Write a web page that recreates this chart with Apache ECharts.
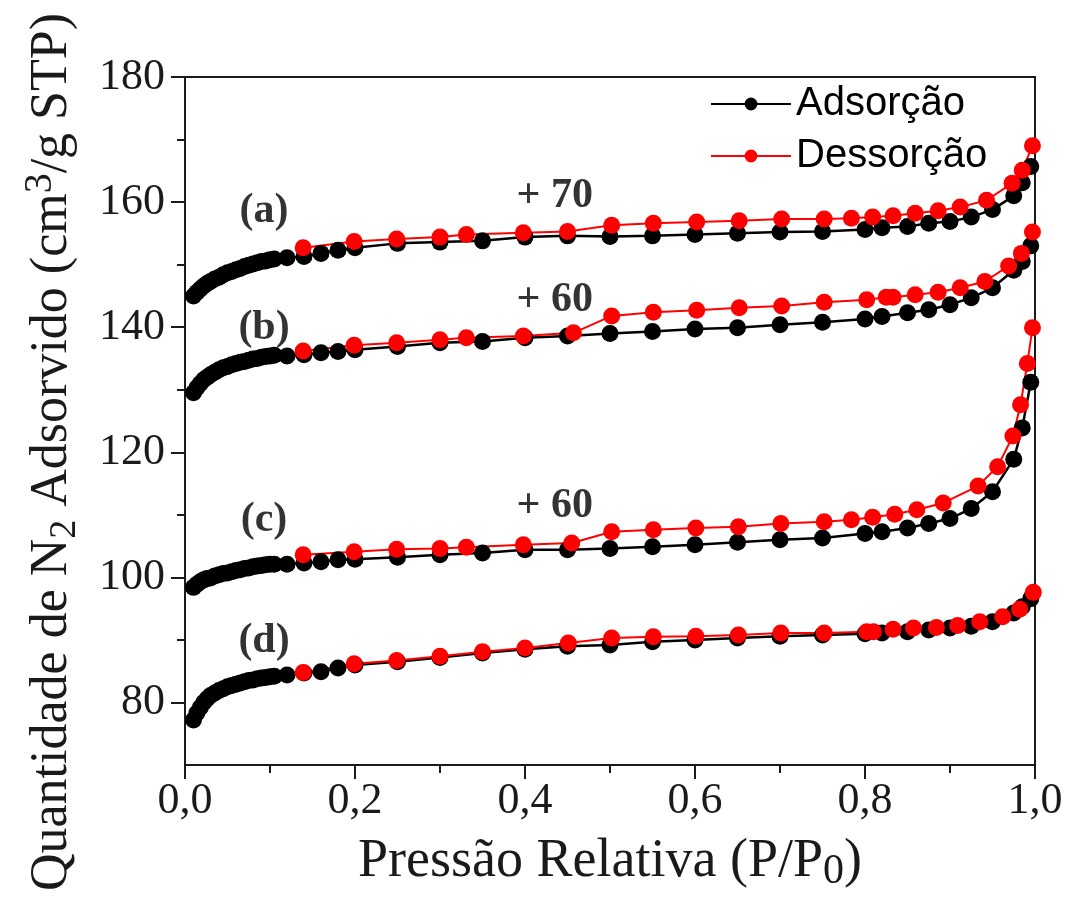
<!DOCTYPE html>
<html>
<head>
<meta charset="utf-8">
<title>Isotermas de N2</title>
<script src="https://cdn.jsdelivr.net/npm/echarts@6/dist/echarts.min.js"></script>
<style>
  html, body { margin: 0; padding: 0; background: #fff; }
  #chart { width: 1070px; height: 914px; }
</style>
</head>
<body>
<div id="chart"></div>
<script>
// pressão relativa da adsorção (comum às 4 amostras)
const adsP = [0.010, 0.014, 0.018, 0.022, 0.026, 0.030, 0.035, 0.040, 0.045, 0.050, 0.055,
  0.060, 0.065, 0.070, 0.075, 0.080, 0.085, 0.090, 0.095, 0.100, 0.105,
  0.12, 0.14, 0.16, 0.18, 0.20, 0.25, 0.30, 0.35, 0.40, 0.45, 0.50, 0.55, 0.60, 0.65,
  0.70, 0.75, 0.80, 0.82, 0.85, 0.875, 0.90, 0.925, 0.95, 0.975, 0.985, 0.995]

// adsorção (já com os deslocamentos +70 / +60 / +60)
const adsA = [145.0, 145.6, 146.1, 146.6, 147.0, 147.3, 147.7, 148.0, 148.4, 148.7, 148.9,
  149.2, 149.4, 149.7, 149.9, 150.1, 150.3, 150.5, 150.6, 150.8, 150.9,
  151.1, 151.3, 151.8, 152.3, 152.7, 153.4, 153.6, 153.8, 154.4, 154.6, 154.5, 154.6, 154.8, 155.0,
  155.2, 155.3, 155.6, 155.9, 156.1, 156.6, 156.9, 157.6, 158.8, 161.0, 163.1, 165.7]
const adsB = [129.5, 130.3, 131.0, 131.6, 132.0, 132.4, 132.8, 133.2, 133.5, 133.7, 134.0,
  134.2, 134.4, 134.5, 134.7, 134.9, 135.0, 135.2, 135.3, 135.4, 135.5,
  135.4, 135.6, 135.9, 136.1, 136.4, 136.9, 137.5, 137.7, 138.3, 138.6, 139.0, 139.3, 139.7, 139.9,
  140.4, 140.8, 141.3, 141.7, 142.3, 142.8, 143.6, 144.7, 146.3, 149.1, 150.5, 153.0]
const adsC = [98.4, 98.9, 99.3, 99.6, 99.8, 99.9, 100.2, 100.4, 100.6, 100.7, 100.9,
  101.1, 101.2, 101.4, 101.5, 101.7, 101.8, 101.9, 102.0, 102.1, 102.1,
  102.1, 102.3, 102.5, 102.8, 102.9, 103.2, 103.6, 103.9, 104.4, 104.4, 104.6, 104.9, 105.2, 105.6,
  106.0, 106.3, 107.0, 107.3, 107.9, 108.6, 109.4, 111.0, 113.7, 118.9, 123.9, 131.2]
const adsD = [77.2, 78.3, 79.2, 80.0, 80.6, 81.1, 81.5, 81.9, 82.2, 82.5, 82.7,
  82.9, 83.1, 83.3, 83.5, 83.6, 83.8, 83.9, 84.0, 84.1, 84.2,
  84.4, 84.7, 84.9, 85.5, 86.0, 86.5, 87.2, 87.9, 88.5, 89.0, 89.2, 89.7, 90.0, 90.3,
  90.6, 90.8, 91.0, 91.1, 91.3, 91.6, 91.9, 92.2, 92.9, 94.3, 95.3, 96.6]

// dessorção: cada amostra tem seus próprios pontos de pressão
const desPA = [0.997, 0.985, 0.973, 0.943, 0.912, 0.886, 0.859, 0.833, 0.809, 0.784, 0.752, 0.702,
  0.652, 0.602, 0.551, 0.502, 0.45, 0.398, 0.331, 0.30, 0.249, 0.199, 0.139]
const desA = [169.0, 165.1, 163.0, 160.3, 159.2, 158.6, 158.2, 157.8, 157.6, 157.4, 157.3, 157.3,
  157.0, 156.8, 156.6, 156.3, 155.3, 155.1, 154.8, 154.4, 154.1, 153.7, 152.7]
const desPB = [0.997, 0.984, 0.969, 0.941, 0.912, 0.886, 0.859, 0.833, 0.825, 0.802, 0.752, 0.702,
  0.652, 0.602, 0.551, 0.502, 0.457, 0.398, 0.331, 0.30, 0.249, 0.199, 0.139]
const desB = [155.2, 151.8, 149.8, 147.3, 146.3, 145.6, 145.2, 144.8, 144.8, 144.4, 144.0, 143.4,
  143.1, 142.7, 142.4, 141.8, 139.1, 138.6, 138.3, 138.0, 137.5, 137.1, 136.2]
const desPC = [0.997, 0.991, 0.983, 0.974, 0.956, 0.933, 0.892, 0.861, 0.835, 0.809, 0.784, 0.752,
  0.701, 0.651, 0.601, 0.551, 0.502, 0.455, 0.398, 0.331, 0.30, 0.249, 0.199, 0.139]
const desC = [139.9, 134.2, 127.6, 122.6, 117.7, 114.6, 111.9, 110.8, 110.1, 109.6, 109.2, 108.9,
  108.6, 108.1, 107.9, 107.6, 107.3, 105.5, 105.2, 104.8, 104.6, 104.5, 104.1, 103.6]
const desPD = [0.998, 0.982, 0.962, 0.935, 0.909, 0.884, 0.857, 0.833, 0.81, 0.802, 0.752, 0.701,
  0.651, 0.601, 0.551, 0.502, 0.451, 0.40, 0.35, 0.30, 0.249, 0.199, 0.139]
const desD = [97.6, 94.9, 93.7, 92.9, 92.3, 92.0, 91.9, 91.7, 91.3, 91.3, 91.1, 91.1,
  90.8, 90.6, 90.5, 90.3, 89.5, 88.7, 88.1, 87.4, 86.7, 86.2, 84.8]

// rótulos das amostras e deslocamentos
const noteText = ['(a)', '+ 70', '(b)', '+ 60', '(c)', '+ 60', '(d)']
const noteP = [0.093, 0.435, 0.093, 0.435, 0.093, 0.435, 0.093]
const noteQ = [158.6, 160.9, 139.9, 144.4, 109.2, 111.4, 89.8]

const yMajor = [80, 100, 120, 140, 160, 180]
const yMinor = [90, 110, 130, 150, 170]

const SERIF = 'Liberation Serif'
const INK = '#1a1a1a'

function pairs(xs, ys) {
  return xs.map((x, i) => [x, ys[i]])
}

function adsSeries(ys) {
  return {
    name: 'Adsorção',
    type: 'line',
    data: pairs(adsP, ys),
    symbol: 'circle',
    symbolSize: 17,
    itemStyle: { color: '#000' },
    lineStyle: { color: '#000', width: 2.5 },
    emphasis: { disabled: true }
  }
}

function desSeries(xs, ys) {
  return {
    name: 'Dessorção',
    type: 'line',
    data: pairs(xs, ys),
    symbol: 'circle',
    symbolSize: 17,
    itemStyle: { color: '#ff0000' },
    lineStyle: { color: '#ff0000', width: 2 },
    emphasis: { disabled: true }
  }
}

const chart = echarts.init(document.getElementById('chart'))
chart.setOption({
  animation: false,
  backgroundColor: '#fff',
  grid: {
    left: 185, right: 35, top: 77, bottom: 149,
    show: true, borderColor: INK, borderWidth: 2,
    outerBoundsMode: 'none'
  },
  legend: {
    data: ['Adsorção', 'Dessorção'],
    orient: 'vertical',
    left: 710, top: 84,
    padding: 0,
    itemGap: 12,
    itemWidth: 80, itemHeight: 16,
    textStyle: { fontFamily: 'Liberation Sans', fontSize: 40, color: '#000' }
  },
  xAxis: {
    type: 'value',
    min: 0, max: 1, interval: 0.2,
    name: '{m|Pressão Relativa (P/P}{sub|0}{m|)}',
    nameLocation: 'middle',
    nameGap: 66,
    nameTextStyle: {
      rich: {
        m: { fontFamily: SERIF, fontSize: 54, lineHeight: 62, color: INK, verticalAlign: 'middle' },
        sub: { fontFamily: SERIF, fontSize: 42, lineHeight: 42, color: INK, verticalAlign: 'bottom' }
      }
    },
    axisLine: { lineStyle: { color: INK, width: 2 } },
    axisTick: { length: 14, lineStyle: { color: INK, width: 2 } },
    minorTick: { show: true, splitNumber: 2, length: 8, lineStyle: { color: INK, width: 2 } },
    axisLabel: {
      fontFamily: SERIF, fontSize: 44, color: INK, margin: 14,
      formatter: v => v.toFixed(1).replace('.', ',')
    },
    splitLine: { show: false }
  },
  yAxis: [{
    type: 'value',
    min: 70, max: 180,
    axisLine: { show: true, lineStyle: { color: INK, width: 2 } },
    axisTick: { show: true, length: 14, customValues: yMajor, lineStyle: { color: INK, width: 2 } },
    axisLabel: { fontFamily: SERIF, fontSize: 44, color: INK, margin: 20, customValues: yMajor },
    splitLine: { show: false }
  }, {
    // eixo auxiliar só para os ticks menores
    type: 'value',
    min: 70, max: 180,
    position: 'left',
    axisLine: { show: false },
    axisTick: { show: true, length: 8, customValues: yMinor, lineStyle: { color: INK, width: 2 } },
    axisLabel: { show: false },
    splitLine: { show: false }
  }],
  graphic: [{
    type: 'text',
    x: 52, y: 452,
    rotation: Math.PI / 2,
    style: {
      text: '{m|Quantidade de N}{sub|2}{m| Adsorvido (cm}{sup|3}{m|/g STP)}',
      align: 'center',
      verticalAlign: 'middle',
      rich: {
        m: { fontFamily: SERIF, fontSize: 52, lineHeight: 64, fill: INK, verticalAlign: 'middle' },
        sub: { fontFamily: SERIF, fontSize: 38, lineHeight: 38, fill: INK, verticalAlign: 'bottom' },
        sup: { fontFamily: SERIF, fontSize: 40, lineHeight: 40, fill: INK, verticalAlign: 'top' }
      }
    }
  }],
  series: [
    adsSeries(adsA), adsSeries(adsB), adsSeries(adsC), adsSeries(adsD),
    desSeries(desPA, desA), desSeries(desPB, desB), desSeries(desPC, desC), desSeries(desPD, desD),
    {
      name: 'notas',
      type: 'scatter',
      symbolSize: 0,
      silent: true,
      data: noteText.map((t, i) => [noteP[i], noteQ[i], t]),
      label: {
        show: true,
        position: 'inside',
        formatter: p => p.data[2],
        fontFamily: SERIF, fontSize: 42, fontWeight: 'bold', color: '#000'
      }
    }
  ]
})
</script>
</body>
</html>
